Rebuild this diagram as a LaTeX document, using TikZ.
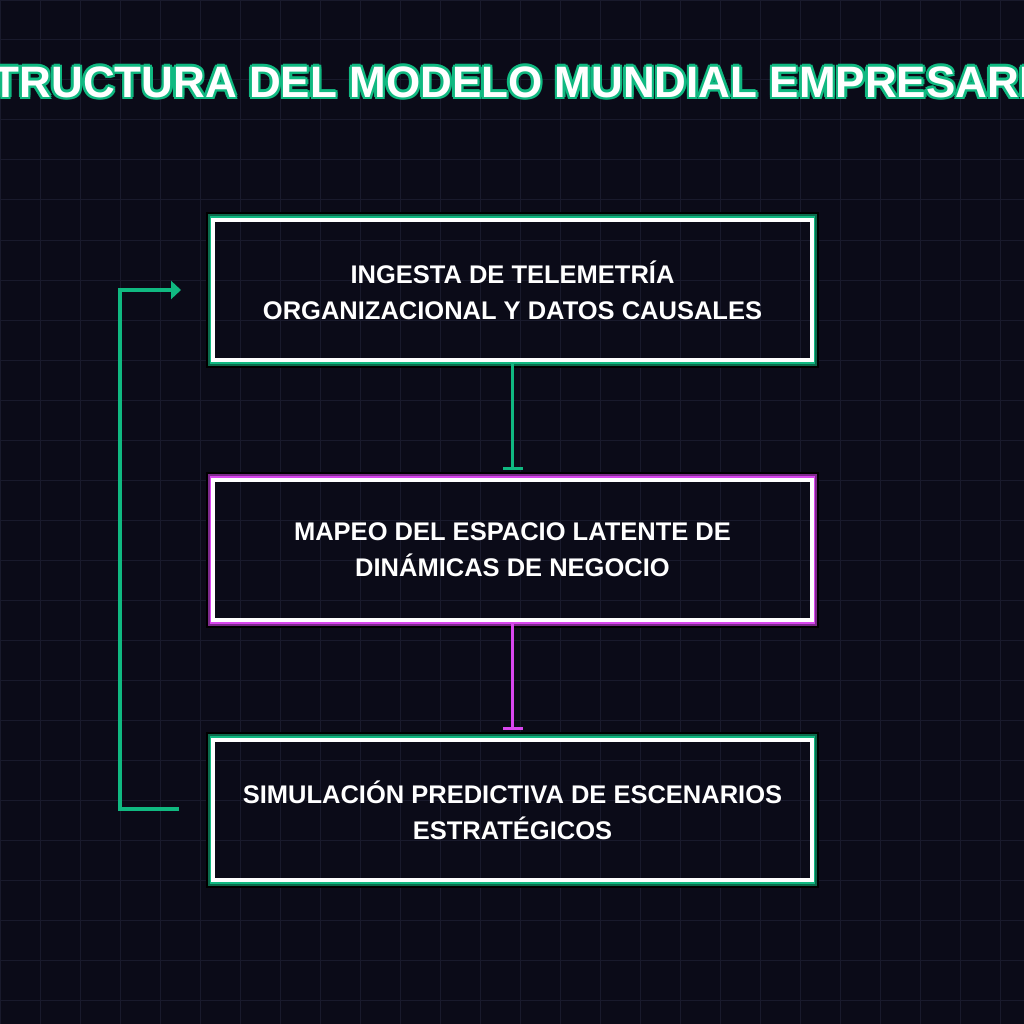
\documentclass[tikz,border=0pt]{standalone}
\usepackage{fontspec}
\setmainfont{Liberation Sans}
\usetikzlibrary{arrows.meta,positioning}
\definecolor{bgdark}{HTML}{0B0B18}
\definecolor{gridc}{HTML}{191A2C}
\definecolor{neongreen}{HTML}{10B981}
\definecolor{darkgreen}{HTML}{0B6B4C}
\definecolor{neonpink}{HTML}{D946EF}
\definecolor{darkpink}{HTML}{7E2A8C}
\begin{document}
\begin{tikzpicture}[x=1pt,y=-1pt,>=Latex,
    stage/.style={draw=white, line width=4pt, minimum width=599pt, minimum height=140pt,
        align=center, text=white, font=\bfseries\fontsize{25.5}{36}\selectfont,
        inner sep=0pt},
    flow/.style={line width=3.5pt}]
    \fill[bgdark] (0,0) rectangle (1024,1024);
    \clip (0,0) rectangle (1024,1024);
    \draw[gridc, line width=1pt, step=40pt] (0,0) grid (1024,1024);

    % title with outline
    \foreach \dx/\dy in {-2.5/0,2.5/0,0/-2.5,0/2.5,-2/-2,2/2,-2/2,2/-2}
        \node[text=neongreen, font=\bfseries\fontsize{44}{50}\selectfont] at (512+\dx,82+\dy) {ESTRUCTURA DEL MODELO MUNDIAL EMPRESARIAL};
    \node[text=white, font=\bfseries\fontsize{44}{50}\selectfont] (title) at (512,82) {ESTRUCTURA DEL MODELO MUNDIAL EMPRESARIAL};

    % glow frames
    \foreach \y/\c/\d in {290/neongreen/darkgreen, 550/neonpink/darkpink, 810/neongreen/darkgreen} {
        \draw[black, line width=3pt] (207.5,\y-76.5) rectangle (817.5,\y+76.5);
        \draw[\d, line width=3pt] (209.5,\y-74.5) rectangle (815.5,\y+74.5);
        \draw[\c, line width=2pt] (211,\y-73) rectangle (814,\y+73);
    }

    \node[stage] (ingesta) at (512.5,290) {INGESTA DE TELEMETRÍA\\ORGANIZACIONAL Y DATOS CAUSALES};
    \node[stage] (mapeo) at (512.5,550) {MAPEO DEL ESPACIO LATENTE DE\\DINÁMICAS DE NEGOCIO};
    \node[stage] (simula) at (512.5,810) {SIMULACIÓN PREDICTIVA DE ESCENARIOS\\ESTRATÉGICOS};

    \draw[flow, neongreen, -{Bar[width=20pt,line width=3pt]}, shorten >=8pt] (ingesta) -- (mapeo);
    \draw[flow, neonpink, -{Bar[width=20pt,line width=3pt]}, shorten >=8pt] (mapeo) -- (simula);

    \coordinate (fbot) at (120,809);
    \coordinate (ftop) at (120,290);
    \draw[flow, neongreen, -{Triangle[length=10pt,width=18pt]}] ([xshift=-32pt]simula.west |- fbot) -- (fbot) -- (ftop) -- ([xshift=-30pt]ingesta.west);
\end{tikzpicture}
\end{document}
